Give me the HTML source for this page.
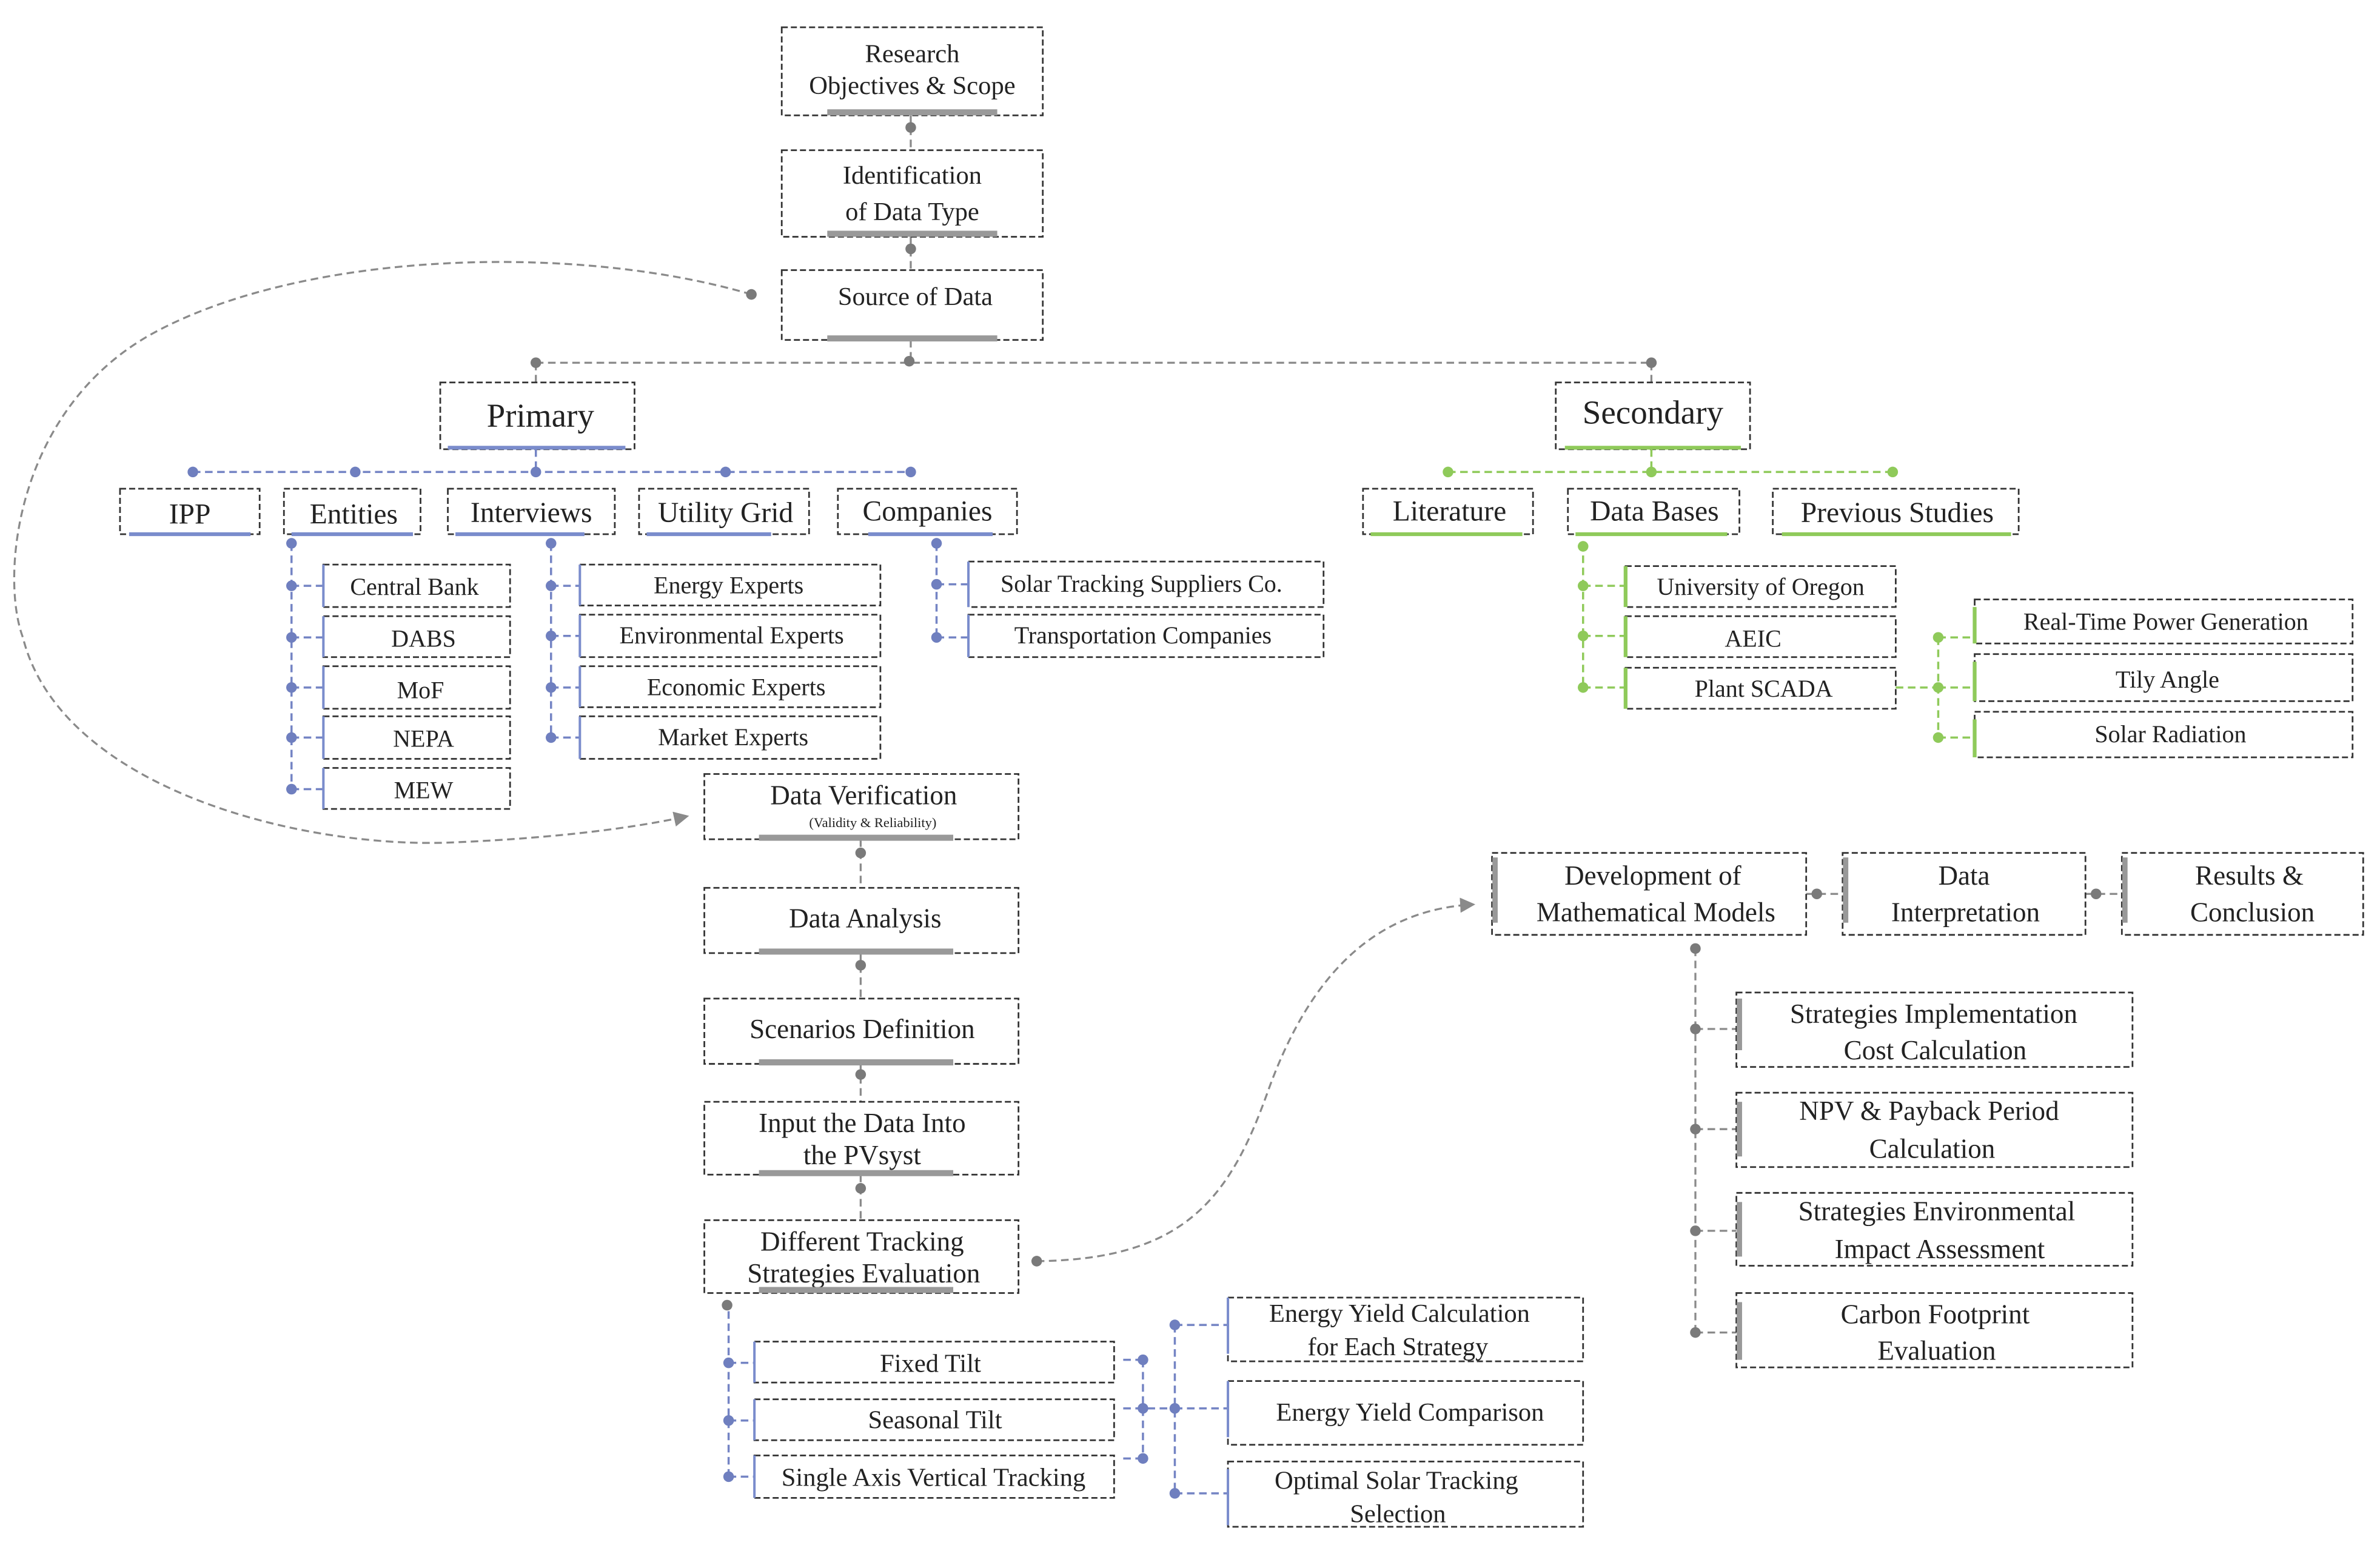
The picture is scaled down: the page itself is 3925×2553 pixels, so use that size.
<!DOCTYPE html>
<html><head><meta charset="utf-8"><style>
html,body{margin:0;padding:0;background:#fff;}
svg{display:block;}
text{font-family:"Liberation Serif",serif;fill:#222;text-anchor:middle;}
.b{fill:#fff;stroke:#333;stroke-width:1.1;stroke-dasharray:4 2;}
.gl{stroke:#8a8a8a;stroke-width:1.3;stroke-dasharray:5 3;fill:none;}
.bl{stroke:#7484c4;stroke-width:1.4;stroke-dasharray:5 3;fill:none;}
.gr{stroke:#8fca5a;stroke-width:1.4;stroke-dasharray:5 3;fill:none;}
.gd{fill:#7a7a7a;} .bd{fill:#6f7fbf;} .ed{fill:#8fca5a;}
.gbar{stroke:#999;stroke-width:4;} .bbar{stroke:#7a8ccc;stroke-width:2.5;} .ebar{stroke:#8fca5a;stroke-width:2.5;}
.bedge{stroke:#7a8ccc;stroke-width:1.6;} .gedge{stroke:#999;stroke-width:3.5;}
</style></head><body>
<svg width="3925" height="2553" viewBox="0 0 1568 1020" xmlns="http://www.w3.org/2000/svg">
<defs><marker id="ar" markerWidth="10" markerHeight="10" refX="8" refY="5" orient="auto" markerUnits="userSpaceOnUse" viewBox="0 0 10 10"><path d="M0,0 L10,5 L0,10 z" fill="#8a8a8a"/></marker></defs>

<!-- top chain -->
<line class="gl" x1="600" y1="76" x2="600" y2="99"/>
<line class="gl" x1="600" y1="156" x2="600" y2="178"/>
<line class="gl" x1="600" y1="224" x2="600" y2="239"/>
<rect class="b" x="515" y="18" width="172" height="58"/>
<text x="601" y="41" font-size="17">Research</text>
<text x="601" y="62" font-size="17">Objectives &amp; Scope</text>
<line class="gbar" x1="545" y1="74" x2="657" y2="74"/>
<circle class="gd" cx="600" cy="84" r="3.5"/>
<rect class="b" x="515" y="99" width="172" height="57"/>
<text x="601" y="121" font-size="17">Identification</text>
<text x="601" y="145" font-size="17">of Data Type</text>
<line class="gbar" x1="545" y1="154" x2="657" y2="154"/>
<circle class="gd" cx="600" cy="164" r="3.5"/>
<rect class="b" x="515" y="178" width="172" height="46"/>
<text x="603" y="201" font-size="17">Source of Data</text>
<line class="gbar" x1="545" y1="223" x2="657" y2="223"/>

<!-- loop curve -->
<path class="gl" d="M495,194 C380,160 200,165 100,220 C10,270 0,380 15,420 C40,520 200,560 300,555 C370,552 420,545 452,538" marker-end="url(#ar)"/>
<circle class="gd" cx="495" cy="194" r="3.5"/>

<!-- primary/secondary split -->
<line class="gl" x1="353" y1="239" x2="1088" y2="239"/>
<line class="gl" x1="353" y1="239" x2="353" y2="252"/>
<line class="gl" x1="1088" y1="239" x2="1088" y2="252"/>
<circle class="gd" cx="353" cy="239" r="3.5"/><circle class="gd" cx="599" cy="238" r="3.5"/><circle class="gd" cx="1088" cy="239" r="3.5"/>
<rect class="b" x="290" y="252" width="128" height="44"/>
<text x="356" y="281" font-size="22">Primary</text>
<line class="bbar" x1="295" y1="295" x2="412" y2="295"/>
<rect class="b" x="1025" y="252" width="128" height="44"/>
<text x="1089" y="279" font-size="22">Secondary</text>
<line class="ebar" x1="1031" y1="295" x2="1147" y2="295"/>

<!-- primary children -->
<line class="bl" x1="353" y1="296" x2="353" y2="311"/>
<line class="bl" x1="127" y1="311" x2="600" y2="311"/>
<circle class="bd" cx="127" cy="311" r="3.5"/><circle class="bd" cx="234" cy="311" r="3.5"/><circle class="bd" cx="353" cy="311" r="3.5"/><circle class="bd" cx="478" cy="311" r="3.5"/><circle class="bd" cx="600" cy="311" r="3.5"/>
<rect class="b" x="79" y="322" width="92" height="30"/><text x="125" y="345" font-size="19">IPP</text><line class="bbar" x1="85" y1="352" x2="165" y2="352"/>
<rect class="b" x="187" y="322" width="90" height="30"/><text x="233" y="345" font-size="19">Entities</text><line class="bbar" x1="192" y1="352" x2="272" y2="352"/>
<rect class="b" x="295" y="322" width="110" height="30"/><text x="350" y="344" font-size="19">Interviews</text><line class="bbar" x1="300" y1="352" x2="385" y2="352"/>
<rect class="b" x="421" y="322" width="112" height="30"/><text x="478" y="344" font-size="19">Utility Grid</text><line class="bbar" x1="426" y1="352" x2="508" y2="352"/>
<rect class="b" x="552" y="322" width="118" height="30"/><text x="611" y="343" font-size="19">Companies</text><line class="bbar" x1="572" y1="352" x2="654" y2="352"/>

<!-- Entities list -->
<line class="bl" x1="192" y1="358" x2="192" y2="520"/>
<circle class="bd" cx="192" cy="358" r="3.5"/>
<g font-size="16">
<line class="bl" x1="192" y1="386" x2="213" y2="386"/><circle class="bd" cx="192" cy="386" r="3.5"/><rect class="b" x="213" y="372" width="123" height="28"/><line class="bedge" x1="213" y1="372" x2="213" y2="400"/><text x="273" y="392">Central Bank</text>
<line class="bl" x1="192" y1="420" x2="213" y2="420"/><circle class="bd" cx="192" cy="420" r="3.5"/><rect class="b" x="213" y="406" width="123" height="27"/><line class="bedge" x1="213" y1="406" x2="213" y2="433"/><text x="279" y="426">DABS</text>
<line class="bl" x1="192" y1="453" x2="213" y2="453"/><circle class="bd" cx="192" cy="453" r="3.5"/><rect class="b" x="213" y="439" width="123" height="28"/><line class="bedge" x1="213" y1="439" x2="213" y2="467"/><text x="277" y="460">MoF</text>
<line class="bl" x1="192" y1="486" x2="213" y2="486"/><circle class="bd" cx="192" cy="486" r="3.5"/><rect class="b" x="213" y="472" width="123" height="28"/><line class="bedge" x1="213" y1="472" x2="213" y2="500"/><text x="279" y="492">NEPA</text>
<line class="bl" x1="192" y1="520" x2="213" y2="520"/><circle class="bd" cx="192" cy="520" r="3.5"/><rect class="b" x="213" y="506" width="123" height="27"/><line class="bedge" x1="213" y1="506" x2="213" y2="533"/><text x="279" y="526">MEW</text>
</g>

<!-- Interviews list -->
<line class="bl" x1="363" y1="358" x2="363" y2="486"/>
<circle class="bd" cx="363" cy="358" r="3.5"/>
<g font-size="16">
<line class="bl" x1="363" y1="386" x2="382" y2="386"/><circle class="bd" cx="363" cy="386" r="3.5"/><rect class="b" x="382" y="372" width="198" height="27"/><line class="bedge" x1="382" y1="372" x2="382" y2="399"/><text x="480" y="391">Energy Experts</text>
<line class="bl" x1="363" y1="419" x2="382" y2="419"/><circle class="bd" cx="363" cy="419" r="3.5"/><rect class="b" x="382" y="405" width="198" height="28"/><line class="bedge" x1="382" y1="405" x2="382" y2="433"/><text x="482" y="424">Environmental Experts</text>
<line class="bl" x1="363" y1="453" x2="382" y2="453"/><circle class="bd" cx="363" cy="453" r="3.5"/><rect class="b" x="382" y="439" width="198" height="27"/><line class="bedge" x1="382" y1="439" x2="382" y2="466"/><text x="485" y="458">Economic Experts</text>
<line class="bl" x1="363" y1="486" x2="382" y2="486"/><circle class="bd" cx="363" cy="486" r="3.5"/><rect class="b" x="382" y="472" width="198" height="28"/><line class="bedge" x1="382" y1="472" x2="382" y2="500"/><text x="483" y="491">Market Experts</text>
</g>

<!-- Companies list -->
<line class="bl" x1="617" y1="358" x2="617" y2="420"/>
<circle class="bd" cx="617" cy="358" r="3.5"/>
<g font-size="16">
<line class="bl" x1="617" y1="385" x2="638" y2="385"/><circle class="bd" cx="617" cy="385" r="3.5"/><rect class="b" x="638" y="370" width="234" height="30"/><line class="bedge" x1="638" y1="370" x2="638" y2="400"/><text x="752" y="390">Solar Tracking Suppliers Co.</text>
<line class="bl" x1="617" y1="420" x2="638" y2="420"/><circle class="bd" cx="617" cy="420" r="3.5"/><rect class="b" x="638" y="405" width="234" height="28"/><line class="bedge" x1="638" y1="405" x2="638" y2="433"/><text x="753" y="424">Transportation Companies</text>
</g>

<!-- Secondary children -->
<line class="gr" x1="1088" y1="296" x2="1088" y2="311"/>
<line class="gr" x1="954" y1="311" x2="1247" y2="311"/>
<circle class="ed" cx="954" cy="311" r="3.5"/><circle class="ed" cx="1088" cy="311" r="3.5"/><circle class="ed" cx="1247" cy="311" r="3.5"/>
<rect class="b" x="898" y="322" width="112" height="30"/><text x="955" y="343" font-size="19">Literature</text><line class="ebar" x1="903" y1="352" x2="1003" y2="352"/>
<rect class="b" x="1033" y="322" width="113" height="30"/><text x="1090" y="343" font-size="19">Data Bases</text><line class="ebar" x1="1038" y1="352" x2="1138" y2="352"/>
<rect class="b" x="1168" y="322" width="162" height="30"/><text x="1250" y="344" font-size="19">Previous Studies</text><line class="ebar" x1="1174" y1="352" x2="1325" y2="352"/>

<line class="gr" x1="1043" y1="358" x2="1043" y2="453"/>
<circle class="ed" cx="1043" cy="360" r="3.5"/>
<g font-size="16">
<line class="gr" x1="1043" y1="386" x2="1071" y2="386"/><circle class="ed" cx="1043" cy="386" r="3.5"/><rect class="b" x="1071" y="373" width="178" height="27"/><line class="ebar" x1="1071" y1="373" x2="1071" y2="400"/><text x="1160" y="392">University of Oregon</text>
<line class="gr" x1="1043" y1="419" x2="1071" y2="419"/><circle class="ed" cx="1043" cy="419" r="3.5"/><rect class="b" x="1071" y="406" width="178" height="27"/><line class="ebar" x1="1071" y1="406" x2="1071" y2="433"/><text x="1155" y="426">AEIC</text>
<line class="gr" x1="1043" y1="453" x2="1071" y2="453"/><circle class="ed" cx="1043" cy="453" r="3.5"/><rect class="b" x="1071" y="440" width="178" height="27"/><line class="ebar" x1="1071" y1="440" x2="1071" y2="467"/><text x="1162" y="459">Plant SCADA</text>
</g>
<line class="gr" x1="1249" y1="453" x2="1277" y2="453"/>
<line class="gr" x1="1277" y1="420" x2="1277" y2="486"/>
<g font-size="16">
<line class="gr" x1="1277" y1="420" x2="1301" y2="420"/><circle class="ed" cx="1277" cy="420" r="3.5"/><rect class="b" x="1301" y="395" width="249" height="29"/><line class="ebar" x1="1301" y1="400" x2="1301" y2="424"/><text x="1427" y="415">Real-Time Power Generation</text>
<line class="gr" x1="1277" y1="453" x2="1301" y2="453"/><circle class="ed" cx="1277" cy="453" r="3.5"/><rect class="b" x="1301" y="431" width="249" height="31"/><line class="ebar" x1="1301" y1="436" x2="1301" y2="462"/><text x="1428" y="453">Tily Angle</text>
<line class="gr" x1="1277" y1="486" x2="1301" y2="486"/><circle class="ed" cx="1277" cy="486" r="3.5"/><rect class="b" x="1301" y="469" width="249" height="30"/><line class="ebar" x1="1301" y1="474" x2="1301" y2="499"/><text x="1430" y="489">Solar Radiation</text>
</g>

<!-- middle chain -->
<line class="gl" x1="567" y1="553" x2="567" y2="585"/>
<line class="gl" x1="567" y1="628" x2="567" y2="658"/>
<line class="gl" x1="567" y1="701" x2="567" y2="726"/>
<line class="gl" x1="567" y1="774" x2="567" y2="804"/>
<rect class="b" x="464" y="510" width="207" height="43"/>
<text x="569" y="530" font-size="18">Data Verification</text>
<text x="575" y="545" font-size="9">(Validity &amp; Reliability)</text>
<line class="gbar" x1="500" y1="552" x2="628" y2="552"/>
<circle class="gd" cx="567" cy="562" r="3.5"/>
<rect class="b" x="464" y="585" width="207" height="43"/>
<text x="570" y="611" font-size="18">Data Analysis</text>
<line class="gbar" x1="500" y1="627" x2="628" y2="627"/>
<circle class="gd" cx="567" cy="636" r="3.5"/>
<rect class="b" x="464" y="658" width="207" height="43"/>
<text x="568" y="684" font-size="18">Scenarios Definition</text>
<line class="gbar" x1="500" y1="700" x2="628" y2="700"/>
<circle class="gd" cx="567" cy="708" r="3.5"/>
<rect class="b" x="464" y="726" width="207" height="48"/>
<text x="568" y="746" font-size="18">Input the Data Into</text>
<text x="568" y="767" font-size="18">the PVsyst</text>
<line class="gbar" x1="500" y1="773" x2="628" y2="773"/>
<circle class="gd" cx="567" cy="783" r="3.5"/>
<rect class="b" x="464" y="804" width="207" height="48"/>
<text x="568" y="824" font-size="18">Different Tracking</text>
<text x="569" y="845" font-size="18">Strategies Evaluation</text>
<line class="gbar" x1="500" y1="850" x2="628" y2="850"/>

<path class="gl" d="M683,831 C780,830 810,790 835,720 C860,650 900,600 970,596" marker-end="url(#ar)"/>
<circle class="gd" cx="683" cy="831" r="3.5"/>

<!-- tracking strategies -->
<circle class="gd" cx="479" cy="860" r="3.5"/>
<line class="bl" x1="480" y1="864" x2="480" y2="974"/>
<g font-size="17">
<line class="bl" x1="480" y1="898" x2="497" y2="898"/><circle class="bd" cx="480" cy="898" r="3.5"/><rect class="b" x="497" y="884" width="237" height="27"/><line class="bedge" x1="497" y1="884" x2="497" y2="911"/><text x="613" y="904">Fixed Tilt</text>
<line class="bl" x1="480" y1="936" x2="497" y2="936"/><circle class="bd" cx="480" cy="936" r="3.5"/><rect class="b" x="497" y="922" width="237" height="27"/><line class="bedge" x1="497" y1="922" x2="497" y2="949"/><text x="616" y="941">Seasonal Tilt</text>
<line class="bl" x1="480" y1="973" x2="497" y2="973"/><circle class="bd" cx="480" cy="973" r="3.5"/><rect class="b" x="497" y="959" width="237" height="28"/><line class="bedge" x1="497" y1="959" x2="497" y2="987"/><text x="615" y="979">Single Axis Vertical Tracking</text>
</g>
<line class="bl" x1="740" y1="896" x2="753" y2="896"/>
<line class="bl" x1="740" y1="928" x2="774" y2="928"/>
<line class="bl" x1="740" y1="961" x2="753" y2="961"/>
<line class="bl" x1="753" y1="896" x2="753" y2="961"/>
<circle class="bd" cx="753" cy="896" r="3.5"/><circle class="bd" cx="753" cy="928" r="3.5"/><circle class="bd" cx="753" cy="961" r="3.5"/>
<line class="bl" x1="774" y1="873" x2="774" y2="984"/>
<g font-size="17">
<line class="bl" x1="774" y1="873" x2="809" y2="873"/><circle class="bd" cx="774" cy="873" r="3.5"/><rect class="b" x="809" y="855" width="234" height="42"/><line class="bedge" x1="809" y1="855" x2="809" y2="892"/><text x="922" y="871">Energy Yield Calculation</text><text x="921" y="893">for Each Strategy</text>
<line class="bl" x1="774" y1="928" x2="809" y2="928"/><circle class="bd" cx="774" cy="928" r="3.5"/><rect class="b" x="809" y="910" width="234" height="42"/><line class="bedge" x1="809" y1="910" x2="809" y2="947"/><text x="929" y="936">Energy Yield Comparison</text>
<line class="bl" x1="774" y1="984" x2="809" y2="984"/><circle class="bd" cx="774" cy="984" r="3.5"/><rect class="b" x="809" y="963" width="234" height="43"/><line class="bedge" x1="809" y1="968" x2="809" y2="1005"/><text x="920" y="981">Optimal Solar Tracking</text><text x="921" y="1003">Selection</text>
</g>

<!-- right section -->
<line class="gl" x1="1190" y1="589" x2="1214" y2="589"/>
<line class="gl" x1="1374" y1="589" x2="1398" y2="589"/>
<g font-size="18">
<rect class="b" x="983" y="562" width="207" height="54"/><line class="gedge" x1="985" y1="565" x2="985" y2="608"/><text x="1089" y="583">Development of</text><text x="1091" y="607">Mathematical Models</text>
<rect class="b" x="1214" y="562" width="160" height="54"/><line class="gedge" x1="1216" y1="565" x2="1216" y2="608"/><text x="1294" y="583">Data</text><text x="1295" y="607">Interpretation</text>
<rect class="b" x="1398" y="562" width="159" height="54"/><line class="gedge" x1="1400" y1="565" x2="1400" y2="608"/><text x="1482" y="583">Results &amp;</text><text x="1484" y="607">Conclusion</text>
</g>
<circle class="gd" cx="1197" cy="589" r="3.5"/><circle class="gd" cx="1381" cy="589" r="3.5"/>
<line class="gl" x1="1117" y1="625" x2="1117" y2="878"/>
<circle class="gd" cx="1117" cy="625" r="3.5"/>
<g font-size="18">
<line class="gl" x1="1117" y1="678" x2="1144" y2="678"/><circle class="gd" cx="1117" cy="678" r="3.5"/><rect class="b" x="1144" y="654" width="261" height="49"/><line class="gedge" x1="1146" y1="658" x2="1146" y2="692"/><text x="1274" y="674">Strategies Implementation</text><text x="1275" y="698">Cost Calculation</text>
<line class="gl" x1="1117" y1="744" x2="1144" y2="744"/><circle class="gd" cx="1117" cy="744" r="3.5"/><rect class="b" x="1144" y="720" width="261" height="49"/><line class="gedge" x1="1146" y1="726" x2="1146" y2="762"/><text x="1271" y="738">NPV &amp; Payback Period</text><text x="1273" y="763">Calculation</text>
<line class="gl" x1="1117" y1="811" x2="1144" y2="811"/><circle class="gd" cx="1117" cy="811" r="3.5"/><rect class="b" x="1144" y="786" width="261" height="48"/><line class="gedge" x1="1146" y1="792" x2="1146" y2="828"/><text x="1276" y="804">Strategies Environmental</text><text x="1278" y="829">Impact Assessment</text>
<line class="gl" x1="1117" y1="878" x2="1144" y2="878"/><circle class="gd" cx="1117" cy="878" r="3.5"/><rect class="b" x="1144" y="852" width="261" height="49"/><line class="gedge" x1="1146" y1="858" x2="1146" y2="896"/><text x="1275" y="872">Carbon Footprint</text><text x="1276" y="896">Evaluation</text>
</g>
</svg>
</body></html>
